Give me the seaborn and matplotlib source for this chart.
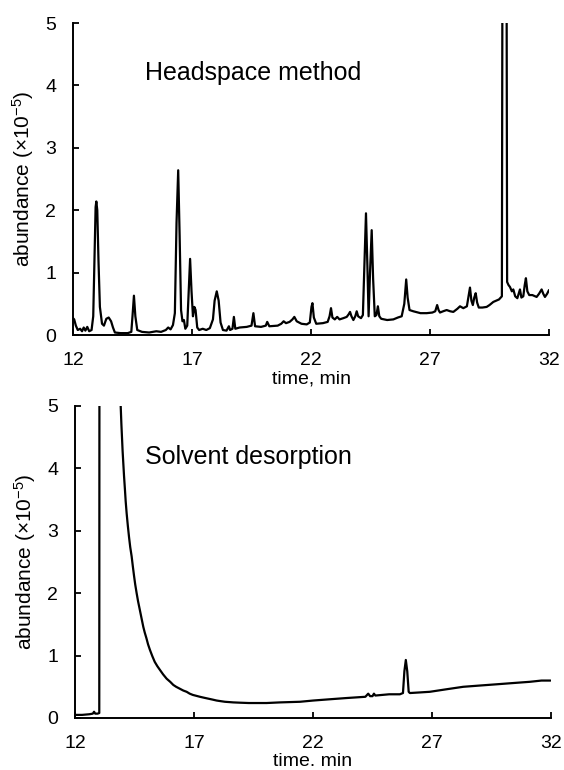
import numpy as np
import pandas as pd
import matplotlib
matplotlib.use("Agg")
import matplotlib.pyplot as plt
import seaborn as sns

# ---------------- data ----------------
hs_time = [12.00, 12.05, 12.12, 12.20, 12.30, 12.38, 12.45, 12.52, 12.60, 12.68,
           12.78, 12.85, 12.90, 12.95, 12.98, 13.02, 13.07, 13.13, 13.22, 13.30,
           13.40, 13.50, 13.60, 13.68, 13.76, 14.00, 14.30, 14.45, 14.50, 14.56,
           14.62, 14.70, 14.90, 15.20, 15.50, 15.70, 15.90, 16.00, 16.10, 16.20,
           16.28, 16.35, 16.42, 16.48, 16.54, 16.60, 16.66, 16.72, 16.80, 16.86,
           16.92, 16.98, 17.04, 17.10, 17.15, 17.22, 17.30, 17.45, 17.60, 17.75,
           17.88, 17.95, 18.04, 18.12, 18.20, 18.30, 18.45, 18.55, 18.60, 18.70,
           18.76, 18.82, 19.00, 19.30, 19.50, 19.58, 19.65, 19.90, 20.10, 20.16,
           20.25, 20.60, 20.75, 20.85, 20.95, 21.10, 21.22, 21.30, 21.40, 21.60,
           21.82, 21.95, 22.02, 22.06, 22.12, 22.22, 22.50, 22.70, 22.78, 22.84,
           22.90, 23.00, 23.10, 23.20, 23.36, 23.50, 23.58, 23.64, 23.70, 23.78,
           23.86, 23.92, 23.98, 24.10, 24.18, 24.24, 24.31, 24.37, 24.42, 24.48,
           24.55, 24.61, 24.68, 24.75, 24.81, 24.87, 24.95, 25.20, 25.46, 25.65,
           25.81, 25.92, 26.00, 26.06, 26.14, 26.30, 26.60, 26.86, 27.10, 27.22,
           27.30, 27.36, 27.42, 27.55, 27.70, 27.85, 27.98, 28.15, 28.26, 28.40,
           28.55, 28.62, 28.68, 28.74, 28.80, 28.86, 28.92, 28.98, 29.05, 29.20,
           29.38, 29.50, 29.66, 29.78, 29.90, 30.02, 30.07, 30.13, 30.19, 30.24,
           30.30, 30.36, 30.44, 30.50, 30.58, 30.67, 30.74, 30.78, 30.84, 30.92,
           30.98, 31.03, 31.09, 31.17, 31.30, 31.48, 31.58, 31.69, 31.76, 31.83,
           31.92, 32.00]
hs_abund = [0.27, 0.25, 0.15, 0.08, 0.10, 0.06, 0.12, 0.07, 0.13, 0.06,
            0.08, 0.30, 1.20, 2.05, 2.14, 2.00, 1.20, 0.45, 0.18, 0.15,
            0.26, 0.28, 0.22, 0.12, 0.04, 0.03, 0.03, 0.05, 0.30, 0.63,
            0.30, 0.08, 0.05, 0.04, 0.06, 0.05, 0.08, 0.12, 0.09, 0.16,
            0.35, 1.80, 2.64, 1.60, 0.40, 0.22, 0.24, 0.10, 0.15, 0.70,
            1.22, 0.70, 0.30, 0.45, 0.40, 0.12, 0.08, 0.10, 0.08, 0.11,
            0.25, 0.55, 0.70, 0.55, 0.20, 0.08, 0.07, 0.14, 0.08, 0.10,
            0.29, 0.10, 0.12, 0.13, 0.15, 0.35, 0.14, 0.13, 0.15, 0.21,
            0.14, 0.15, 0.18, 0.22, 0.19, 0.21, 0.25, 0.29, 0.22, 0.18,
            0.17, 0.20, 0.45, 0.51, 0.28, 0.18, 0.19, 0.21, 0.30, 0.43,
            0.28, 0.25, 0.29, 0.25, 0.27, 0.29, 0.33, 0.37, 0.30, 0.24,
            0.30, 0.38, 0.30, 0.27, 0.32, 1.10, 1.95, 1.10, 0.30, 1.00,
            1.68, 0.90, 0.30, 0.32, 0.46, 0.30, 0.26, 0.24, 0.25, 0.28,
            0.30, 0.50, 0.89, 0.60, 0.40, 0.38, 0.35, 0.35, 0.36, 0.38,
            0.48, 0.40, 0.36, 0.38, 0.40, 0.38, 0.37, 0.42, 0.46, 0.43,
            0.46, 0.62, 0.76, 0.55, 0.48, 0.60, 0.67, 0.52, 0.44, 0.44,
            0.45, 0.48, 0.53, 0.55, 0.57, 0.62, 12.0, 15.0, 12.0, 0.85,
            0.80, 0.77, 0.70, 0.73, 0.62, 0.59, 0.68, 0.73, 0.60, 0.62,
            0.80, 0.91, 0.70, 0.64, 0.64, 0.61, 0.66, 0.73, 0.66, 0.61,
            0.66, 0.72]

sd_time = [12.00, 12.30, 12.60, 12.75, 12.80, 12.85, 12.95, 13.02, 13.05, 13.85,
           13.92, 13.95, 13.98, 14.00, 14.03, 14.06, 14.10, 14.13, 14.17, 14.22,
           14.27, 14.32, 14.38, 14.43, 14.48, 14.53, 14.59, 14.65, 14.72, 14.80,
           14.87, 14.93, 15.00, 15.07, 15.15, 15.25, 15.35, 15.46, 15.57, 15.70,
           15.85, 16.00, 16.13, 16.25, 16.40, 16.55, 16.69, 16.82, 16.95, 17.10,
           17.25, 17.42, 17.60, 17.78, 17.95, 18.12, 18.30, 18.48, 18.65, 18.95,
           19.30, 19.65, 20.05, 20.61, 21.45, 22.01, 22.70, 23.41, 24.20, 24.32,
           24.40, 24.50, 24.56, 24.62, 25.20, 25.65, 25.78, 25.84, 25.90, 25.96,
           26.02, 26.07, 26.50, 26.91, 27.60, 28.31, 29.00, 29.71, 30.40, 31.11,
           31.60, 31.98]
sd_abund = [0.05, 0.05, 0.06, 0.07, 0.10, 0.07, 0.07, 0.08, 25.0, 6.50,
            5.00, 4.70, 4.45, 4.28, 4.08, 3.88, 3.65, 3.47, 3.28, 3.08,
            2.90, 2.74, 2.59, 2.43, 2.28, 2.14, 2.00, 1.87, 1.74, 1.59,
            1.46, 1.37, 1.28, 1.18, 1.09, 0.99, 0.90, 0.83, 0.77, 0.70,
            0.63, 0.58, 0.53, 0.50, 0.47, 0.44, 0.42, 0.39, 0.37, 0.355,
            0.34, 0.325, 0.31, 0.295, 0.28, 0.27, 0.26, 0.255, 0.25, 0.245,
            0.24, 0.24, 0.24, 0.25, 0.26, 0.28, 0.30, 0.32, 0.34, 0.39,
            0.35, 0.35, 0.39, 0.36, 0.38, 0.38, 0.40, 0.75, 0.93, 0.75,
            0.42, 0.40, 0.41, 0.42, 0.46, 0.50, 0.52, 0.54, 0.56, 0.58,
            0.60, 0.60]

x_ticks = [12, 17, 22, 27, 32]
y_ticks = [0, 1, 2, 3, 4, 5]
panel_titles = ["Headspace method", "Solvent desorption"]
x_labels = ["time, min", "time. min"]
y_label = r"abundance (×10$^{-5}$)"

# ---------------- styling ----------------
sns.set_theme(style="ticks")
plt.rcParams["font.family"] = ["Liberation Sans", "DejaVu Sans"]
plt.rcParams["mathtext.fontset"] = "custom"
plt.rcParams["mathtext.rm"] = "Liberation Sans"
plt.rcParams["mathtext.it"] = "Liberation Sans"
plt.rcParams["mathtext.default"] = "regular"

fig = plt.figure(figsize=(5.64, 7.70), dpi=100)
fig.patch.set_facecolor("white")

ax_top = fig.add_axes([73 / 564, (770 - 335) / 770, 476 / 564, 312 / 770])
ax_bot = fig.add_axes([75 / 564, (770 - 718) / 770, 476 / 564, 312 / 770])

datasets = [
    pd.DataFrame({"time": hs_time, "abundance": hs_abund}),
    pd.DataFrame({"time": sd_time, "abundance": sd_abund}),
]
text_pos = [(15.03, 4.2), (14.94, 4.18)]

for ax, df, title, xl, tp in zip([ax_top, ax_bot], datasets, panel_titles, x_labels, text_pos):
    sns.lineplot(data=df, x="time", y="abundance", ax=ax, color="black",
                 linewidth=1.6, estimator=None, sort=False)
    ax.set_xlim(12, 32)
    ax.set_ylim(0, 5)
    ax.set_xticks(x_ticks)
    ax.set_yticks(y_ticks)
    ax.set_xticklabels([str(t) for t in x_ticks])
    ax.set_yticklabels([str(t) for t in y_ticks])
    ax.tick_params(axis="both", direction="in", length=4.5, width=1.3,
                   labelsize=14, colors="black")
    ax.tick_params(axis="y", pad=12)
    ax.tick_params(axis="x", pad=12)
    for s in ["top", "right"]:
        ax.spines[s].set_visible(False)
    for s in ["left", "bottom"]:
        ax.spines[s].set_linewidth(1.4)
        ax.spines[s].set_color("black")
    ax.set_facecolor("white")
    ax.set_xlabel(xl, fontsize=14, labelpad=1, color="black")
    ax.set_ylabel(y_label, fontsize=15, color="black")
    ax.yaxis.set_label_coords(-0.078, 0.5)
    ax.text(tp[0], tp[1], title, fontsize=18, ha="left", va="center", color="black")

fig.savefig("out.png", dpi=100, facecolor="white")
